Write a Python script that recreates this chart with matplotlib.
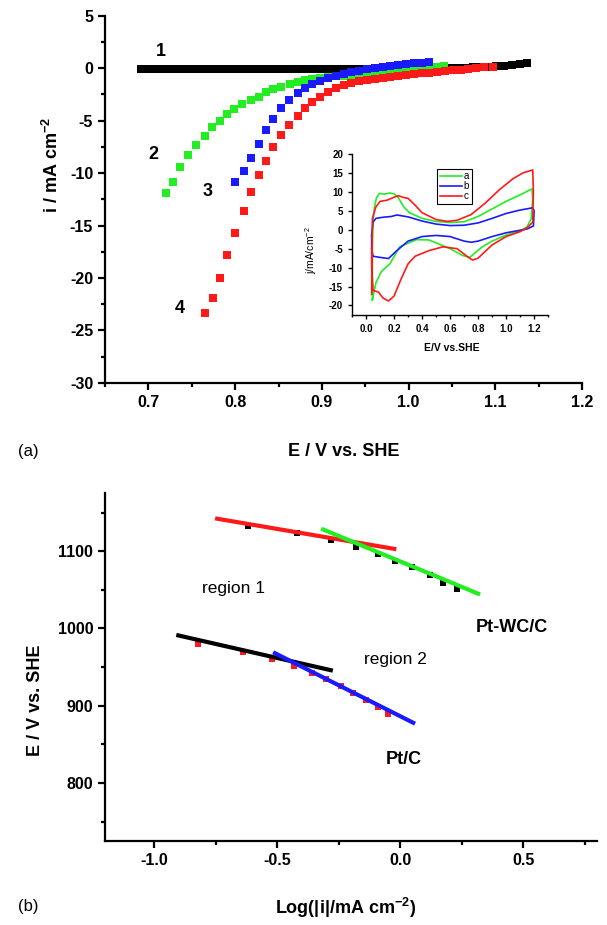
import matplotlib
matplotlib.use("Agg")
import matplotlib.pyplot as plt
from matplotlib.ticker import MultipleLocator

plt.rcParams['font.family'] = ['Liberation Sans', 'DejaVu Sans']
plt.rcParams['mathtext.fontset'] = 'custom'
plt.rcParams['mathtext.rm'] = 'Liberation Sans'
plt.rcParams['mathtext.bf'] = 'Liberation Sans:bold'
plt.rcParams['axes.unicode_minus'] = False

# ---- panel (a): polarization curves ----
E1 = [0.692, 0.701, 0.710, 0.719, 0.728, 0.736, 0.745, 0.754, 0.763, 0.772,
      0.781, 0.790, 0.798, 0.807, 0.816, 0.825, 0.834, 0.843, 0.852, 0.861,
      0.870, 0.878, 0.887, 0.896, 0.905, 0.914, 0.923, 0.932, 0.940, 0.949,
      0.958, 0.967, 0.976, 0.985, 0.994, 1.003, 1.012, 1.020, 1.029, 1.038,
      1.047, 1.056, 1.065, 1.074, 1.083, 1.092, 1.101, 1.110, 1.119, 1.128, 1.137]
i1 = [-0.1, -0.1, -0.1, -0.1, -0.1, -0.1, -0.1, -0.1, -0.1, -0.1,
      -0.1, -0.1, -0.1, -0.1, -0.1, -0.1, -0.1, -0.1, -0.1, -0.1,
      -0.1, -0.1, -0.1, -0.1, -0.1, -0.1, -0.1, -0.1, -0.1, -0.1,
      -0.1, -0.1, -0.1, -0.1, -0.1, -0.1, -0.05, -0.05, 0.0, 0.0,
      0.0, 0.05, 0.05, 0.1, 0.1, 0.15, 0.2, 0.25, 0.3, 0.38, 0.45]

E2 = [0.720, 0.728, 0.737, 0.746, 0.755, 0.765, 0.773, 0.782, 0.791, 0.799,
      0.808, 0.818, 0.827, 0.836, 0.844, 0.853, 0.863, 0.872, 0.880, 0.889,
      0.898, 0.907, 0.916, 0.925, 0.934, 0.943, 0.952, 0.961, 0.970, 0.979,
      0.988, 0.997, 1.006, 1.015, 1.024, 1.033, 1.041]
i2 = [-11.9, -10.8, -9.4, -8.3, -7.3, -6.5, -5.6, -5.0, -4.4, -3.9,
      -3.4, -3.0, -2.7, -2.3, -2.0, -1.8, -1.5, -1.3, -1.15, -1.05,
      -0.95, -0.85, -0.75, -0.7, -0.62, -0.55, -0.48, -0.42, -0.35, -0.28,
      -0.2, -0.12, -0.05, 0.02, 0.08, 0.14, 0.2]

E3 = [0.800, 0.810, 0.818, 0.827, 0.836, 0.844, 0.853, 0.862, 0.872, 0.881,
      0.889, 0.898, 0.907, 0.916, 0.925, 0.934, 0.943, 0.952, 0.961, 0.970,
      0.979, 0.988, 0.997, 1.006, 1.015, 1.024]
i3 = [-10.8, -9.8, -8.6, -7.2, -5.9, -4.8, -3.8, -3.0, -2.4, -1.9,
      -1.5, -1.2, -0.95, -0.75, -0.55, -0.4, -0.25, -0.12, 0.0, 0.1,
      0.2, 0.3, 0.38, 0.45, 0.52, 0.58]

E4 = [0.765, 0.774, 0.782, 0.791, 0.800, 0.810, 0.818, 0.827, 0.836, 0.844,
      0.853, 0.862, 0.872, 0.881, 0.889, 0.898, 0.907, 0.916, 0.925, 0.934,
      0.943, 0.952, 0.961, 0.970, 0.979, 0.988, 0.997, 1.006, 1.015, 1.024,
      1.033, 1.042, 1.051, 1.060, 1.069, 1.078, 1.087, 1.097]
i4 = [-23.3, -21.9, -20.0, -17.8, -15.7, -13.6, -11.8, -10.2, -8.8, -7.5,
      -6.4, -5.4, -4.6, -3.8, -3.2, -2.7, -2.3, -1.9, -1.6, -1.4,
      -1.25, -1.1, -1.0, -0.9, -0.8, -0.72, -0.64, -0.56, -0.5, -0.42,
      -0.35, -0.28, -0.22, -0.15, -0.08, 0.0, 0.08, 0.15]

# ---- inset: cyclic voltammograms ----
cv_a_E = [0.045, 0.045, 0.05, 0.06, 0.075, 0.095, 0.13, 0.17, 0.2, 0.23, 0.27, 0.31,
          0.4, 0.5, 0.6, 0.7, 0.8, 0.9, 1.0, 1.1, 1.185, 1.19, 1.18, 1.15,
          1.1, 1.0, 0.9, 0.83, 0.74, 0.69, 0.6, 0.45, 0.36, 0.24, 0.17, 0.11, 0.07, 0.045]
cv_a_j = [-18.5, -5, 2, 6, 8.5, 9.6, 9.4, 9.7, 9.5, 8.5, 6, 4.5,
          3.0, 2.2, 1.9, 2.1, 3.5, 5.5, 7.5, 9.2, 10.8, 8, 3, 0.8,
          -0.3, -1.4, -3, -4.5, -7.3, -6.8, -5, -2.7, -2.6, -4.5, -9, -11, -14, -18.5]

cv_b_E = [0.04, 0.045, 0.05, 0.07, 0.12, 0.18, 0.22, 0.3, 0.4, 0.5, 0.6, 0.7,
          0.8, 0.9, 1.0, 1.1, 1.19, 1.2, 1.195, 1.15, 1.0, 0.9, 0.8, 0.75,
          0.7, 0.6, 0.5, 0.4, 0.3, 0.22, 0.16, 0.1, 0.05, 0.04, 0.04]
cv_b_j = [-1.5, 0.5, 2, 3, 3.3, 3.5, 3.9, 3.4, 2.3, 1.5, 1.1, 1.2,
          1.8, 3, 4.3, 5.2, 5.8, 5, 1, 0.2, -0.8, -1.8, -3, -3.3,
          -3, -1.8, -1.5, -1.8, -3, -5.5, -7.6, -7.3, -7, -5, -1.5]

cv_c_E = [0.04, 0.045, 0.07, 0.1, 0.15, 0.2, 0.23, 0.27, 0.3, 0.35, 0.4, 0.5,
          0.58, 0.65, 0.75, 0.85, 0.95, 1.05, 1.12, 1.19, 1.195, 1.19, 1.15, 1.1,
          1.0, 0.9, 0.8, 0.76, 0.72, 0.65, 0.55, 0.45, 0.35, 0.3, 0.25, 0.2,
          0.16, 0.12, 0.09, 0.05, 0.04, 0.04]
cv_c_j = [-17, 3, 6, 7.5, 7.8, 8.6, 9, 8.5, 8.3, 6.5, 4.5, 2.7,
          2.2, 2.5, 4, 7, 10.5, 13.5, 15, 15.8, 10, 2, 0.5, -0.5,
          -1.8, -4, -7.5, -8, -7, -5, -4.5, -5.5, -7, -9, -13, -17.5,
          -18.8, -18, -16.5, -16, -10, -5]

# ---- panel (b): Tafel plots ----
ptwc_logi = [-0.62, -0.42, -0.28, -0.18, -0.09, -0.02, 0.05, 0.12, 0.175, 0.23]
ptwc_E = [1133, 1124, 1114, 1105, 1096, 1087, 1079, 1069, 1059, 1051]
ptc_logi = [-0.82, -0.64, -0.52, -0.43, -0.36, -0.30, -0.24, -0.19, -0.14, -0.09, -0.05]
ptc_E = [980, 970, 961, 952, 943, 934, 926, 917, 908, 899, 889]

fit_ptwc_r1_x = [-0.744, -0.024]
fit_ptwc_r1_y = [1142, 1103]
fit_ptwc_r2_x = [-0.313, 0.317]
fit_ptwc_r2_y = [1128, 1045]
fit_ptc_r1_x = [-0.902, -0.282]
fit_ptc_r1_y = [991, 946]
fit_ptc_r2_x = [-0.509, 0.053]
fit_ptc_r2_y = [968, 878]

GREEN = '#22ee22'
BLUE = '#1a1aff'
RED = '#ff1a1a'


def style_axes(ax, lw=1.6, size=11.5, ticklen=5):
    for s in ['top', 'right']:
        ax.spines[s].set_visible(False)
    for s in ['left', 'bottom']:
        ax.spines[s].set_linewidth(lw)
    ax.tick_params(which='major', direction='out', length=ticklen, width=lw,
                   labelsize=size)
    ax.tick_params(which='minor', direction='out', length=ticklen * 0.6, width=lw)
    for lab in ax.get_xticklabels() + ax.get_yticklabels():
        lab.set_fontweight('bold')


fig = plt.figure(figsize=(6.07, 9.25), dpi=100)

# top panel
ax1 = fig.add_axes([0.173, 0.586, 0.786, 0.397])
ax1.plot(E1, i1, 's', color='black', ms=5.2, mew=0)
ax1.plot(E2, i2, 's', color=GREEN, ms=5.2, mew=0)
ax1.plot(E4, i4, 's', color=RED, ms=5.2, mew=0)
ax1.plot(E3, i3, 's', color=BLUE, ms=5.2, mew=0)
ax1.set_xlim(0.65, 1.2)
ax1.set_ylim(-30, 5)
ax1.xaxis.set_major_locator(MultipleLocator(0.1))
ax1.xaxis.set_minor_locator(MultipleLocator(0.05))
ax1.yaxis.set_major_locator(MultipleLocator(5))
ax1.yaxis.set_minor_locator(MultipleLocator(2.5))
style_axes(ax1)
ax1.set_xlabel('E / V vs. SHE', fontsize=13, fontweight='bold')
ax1.xaxis.set_label_coords(0.5, -0.163)
ax1.set_ylabel(r'i / mA cm$\mathbf{^{-2}}$', fontsize=13, fontweight='bold')
ax1.yaxis.set_label_coords(-0.09, 0.594)
for txt, x, y in [('1', 0.714, 1.6), ('2', 0.706, -8.2), ('3', 0.768, -11.8), ('4', 0.736, -22.9)]:
    ax1.text(x, y, txt, fontsize=13, fontweight='bold', ha='center', va='center')

# inset
axi = fig.add_axes([0.58, 0.6595, 0.323, 0.174])
axi.plot(cv_a_E, cv_a_j, color=GREEN, lw=1.2, label='a')
axi.plot(cv_b_E, cv_b_j, color=BLUE, lw=1.2, label='b')
axi.plot(cv_c_E, cv_c_j, color=RED, lw=1.2, label='c')
axi.set_xlim(-0.1, 1.3)
axi.set_ylim(-22.5, 20)
axi.xaxis.set_major_locator(MultipleLocator(0.2))
axi.xaxis.set_minor_locator(MultipleLocator(0.1))
axi.yaxis.set_major_locator(MultipleLocator(5))
style_axes(axi, lw=1.0, size=7, ticklen=3)
axi.set_xlabel('E/V vs.SHE', fontsize=7.5, fontweight='bold')
axi.xaxis.set_label_coords(0.51, -0.174)
axi.set_ylabel(r'j/mA/cm$^{-2}$', fontsize=7.5)
axi.yaxis.set_label_coords(-0.17, 0.40)
leg = axi.legend(loc='upper left', bbox_to_anchor=(0.41, 0.94), fontsize=7,
                 handlelength=2.2, handletextpad=0.2, labelspacing=0.0,
                 borderpad=0.3, fancybox=False, framealpha=1)
leg.get_frame().set_edgecolor('black')
leg.get_frame().set_linewidth(0.8)

# bottom panel
ax2 = fig.add_axes([0.173, 0.0908, 0.8105, 0.376])
ax2.plot(ptwc_logi, ptwc_E, 's', color='black', ms=4.5, mew=0, zorder=1)
ax2.plot(ptc_logi, ptc_E, 's', color=RED, ms=4.5, mew=0, zorder=1)
ax2.plot(fit_ptwc_r1_x, fit_ptwc_r1_y, color=RED, lw=3, zorder=2)
ax2.plot(fit_ptwc_r2_x, fit_ptwc_r2_y, color=GREEN, lw=3, zorder=2)
ax2.plot(fit_ptc_r1_x, fit_ptc_r1_y, color='black', lw=3, zorder=2)
ax2.plot(fit_ptc_r2_x, fit_ptc_r2_y, color=BLUE, lw=3, zorder=2)
ax2.set_xlim(-1.2, 0.8)
ax2.set_ylim(725, 1175)
ax2.xaxis.set_major_locator(MultipleLocator(0.5))
ax2.xaxis.set_minor_locator(MultipleLocator(0.25))
ax2.yaxis.set_major_locator(MultipleLocator(100))
ax2.yaxis.set_minor_locator(MultipleLocator(50))
style_axes(ax2)
ax2.set_xlabel(r'Log(|i|/mA cm$\mathbf{^{-2}}$)', fontsize=13, fontweight='bold')
ax2.xaxis.set_label_coords(0.488, -0.158)
ax2.set_ylabel('E / V vs. SHE', fontsize=13, fontweight='bold')
ax2.yaxis.set_label_coords(-0.124, 0.405)
ax2.text(-0.679, 1052, 'region 1', fontsize=12.5, ha='center', va='center')
ax2.text(-0.02, 960, 'region 2', fontsize=12.5, ha='center', va='center')
ax2.text(0.455, 1001, 'Pt-WC/C', fontsize=13, fontweight='bold', ha='center', va='center')
ax2.text(0.014, 831, 'Pt/C', fontsize=13, fontweight='bold', ha='center', va='center')

fig.text(0.046, 0.512, '(a)', fontsize=12, ha='center', va='center')
fig.text(0.046, 0.0205, '(b)', fontsize=12, ha='center', va='center')

fig.savefig('out.png', dpi=100)
